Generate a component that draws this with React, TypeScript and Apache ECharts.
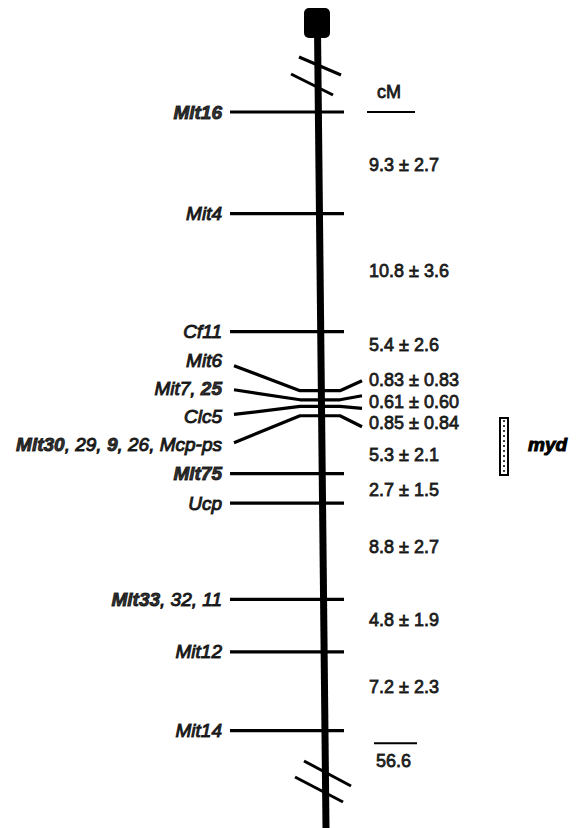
import React, { useEffect, useRef } from "react";
import * as echarts from "echarts";

// ---------- data ----------
const markerLabels = [
  "{b|Mit16}",
  "{r|Mit4}",
  "{r|Cf11}",
  "{r|Mit6}",
  "{r|Mit7, }{b|25}",
  "{r|Clc5}",
  "{b|Mit30}{r|, 29, }{b|9}{r|, 26, Mcp-ps}",
  "{b|Mit75}",
  "{r|Ucp}",
  "{b|Mit33}{r|, 32, 11}",
  "{r|Mit12}",
  "{r|Mit14}",
];
const intervalCM = [9.3, 10.8, 5.4, 0.83, 0.61, 0.85, 5.3, 2.7, 8.8, 4.8, 7.2];
const intervalSE = [2.7, 3.6, 2.6, 0.83, 0.6, 0.84, 2.1, 1.5, 2.7, 1.9, 2.3];
const totalCM = 56.6;
const unitLabel = "cM";
const locusLabel = "myd";

// ---------- layout ----------
const W = 577;
const H = 828;
const Y0 = 112;
const PX_PER_CM = 10.93;
const LINE_LEFT = 230;
const LINE_RIGHT = 344;
const LABEL_RIGHT = 222;
const INTERVAL_X = 369;
const CLUSTER = [3, 4, 5, 6];
const clusterLeftPx = [-25, -10, 8, 27];
const clusterRightPx = [-10, -4, 2, 11];
const clusterLabelPx = [-30, -11, 10, 29];
const intervalLabelPx = [2, -2, -16, -15, -1, 12, 10, 2, -4, -6, -4];
const FONT = "'Liberation Sans', Arial, Helvetica, sans-serif";

const px2cm = (p: number) => p / PX_PER_CM;

export default function App() {
  const ref = useRef<HTMLDivElement>(null);
  useEffect(() => {
    document.body.style.margin = "0";
    if (!ref.current) return;
    const chart = echarts.init(ref.current, null, { renderer: "svg" });

    // cumulative positions
    const pos: number[] = [0];
    intervalCM.forEach((d) => pos.push(Math.round((pos[pos.length - 1] + d) * 100) / 100));

    const series: any[] = [];
    const lineStyle = { color: "#000", width: 3.2, cap: "butt", join: "round" };

    pos.forEach((cm, i) => {
      const ci = CLUSTER.indexOf(i);
      let data: number[][];
      if (ci >= 0) {
        data = [
          [LINE_LEFT + 4, cm + px2cm(clusterLeftPx[ci])],
          [300, cm],
          [340, cm],
          [362, cm + px2cm(clusterRightPx[ci])],
        ];
      } else {
        data = [
          [LINE_LEFT, cm],
          [LINE_RIGHT, cm],
        ];
      }
      series.push({
        type: "line",
        data,
        symbol: "none",
        lineStyle,
        silent: true,
        z: 3,
      });
    });

    // marker labels
    series.push({
      type: "scatter",
      symbolSize: 0,
      silent: true,
      data: pos.map((cm, i) => {
        const ci = CLUSTER.indexOf(i);
        return [LABEL_RIGHT, ci >= 0 ? cm + px2cm(clusterLabelPx[ci]) : cm];
      }),
      label: {
        show: true,
        position: "left",
        distance: 0,
        color: "#000",
        formatter: (p: any) => markerLabels[p.dataIndex],
        rich: {
          b: {
            fontFamily: FONT,
            fontSize: 19,
            fontWeight: "bold",
            fontStyle: "italic",
            color: "#000",
            textBorderColor: "#000",
            textBorderWidth: 1,
          },
          r: {
            fontFamily: FONT,
            fontSize: 19,
            fontWeight: "normal",
            fontStyle: "italic",
            color: "#000",
            textBorderColor: "#000",
            textBorderWidth: 1.1,
          },
        },
      },
    });

    // interval labels
    const fmt = (v: number, ref: number) => (ref < 1 ? v.toFixed(2) : v.toFixed(1));
    series.push({
      type: "scatter",
      symbolSize: 0,
      silent: true,
      data: intervalCM.map((d, i) => [
        INTERVAL_X,
        (pos[i] + pos[i + 1]) / 2 + px2cm(intervalLabelPx[i]),
      ]),
      label: {
        show: true,
        position: "right",
        distance: 0,
        formatter: (p: any) =>
          `${fmt(intervalCM[p.dataIndex], intervalCM[p.dataIndex])} ± ${fmt(
            intervalSE[p.dataIndex],
            intervalCM[p.dataIndex]
          )}`,
        fontFamily: FONT,
        fontSize: 18,
        color: "#000",
        textBorderColor: "#000",
        textBorderWidth: 0.9,
      },
    });

    // unit header line & total line
    series.push({
      type: "line",
      data: [
        [367, 0],
        [415, 0],
      ],
      symbol: "none",
      lineStyle: { color: "#000", width: 2 },
      silent: true,
    });
    series.push({
      type: "line",
      data: [
        [374, totalCM + px2cm(12.5)],
        [417, totalCM + px2cm(12.5)],
      ],
      symbol: "none",
      lineStyle: { color: "#000", width: 2 },
      silent: true,
    });
    series.push({
      type: "scatter",
      symbolSize: 0,
      silent: true,
      data: [
        [376, totalCM + px2cm(30)],
        [377, px2cm(-20)],
      ],
      label: {
        show: true,
        position: "right",
        distance: 0,
        formatter: (p: any) => (p.dataIndex === 0 ? String(totalCM) : unitLabel),
        fontFamily: FONT,
        fontSize: 18,
        color: "#000",
        textBorderColor: "#000",
        textBorderWidth: 0.9,
      },
    });

    const yMin = -Y0 / PX_PER_CM;
    const yMax = (H - Y0) / PX_PER_CM;

    chart.setOption({
      animation: false,
      backgroundColor: "#fff",
      grid: { left: 0, right: 0, top: 0, bottom: 0 },
      xAxis: { type: "value", min: 0, max: W, show: false },
      yAxis: { type: "value", min: yMin, max: yMax, inverse: true, show: false },
      series,
      graphic: [
        {
          type: "line",
          shape: { x1: 317.5, y1: 30, x2: 326, y2: 828 },
          style: { stroke: "#000", lineWidth: 7 },
          z: 1,
        },
        {
          type: "rect",
          shape: { x: 304, y: 8, width: 26, height: 30, r: 5 },
          style: { fill: "#000" },
        },
        {
          type: "line",
          shape: { x1: 299, y1: 57, x2: 341, y2: 75 },
          style: { stroke: "#000", lineWidth: 3 },
        },
        {
          type: "line",
          shape: { x1: 291, y1: 74, x2: 333, y2: 95 },
          style: { stroke: "#000", lineWidth: 3 },
        },
        {
          type: "line",
          shape: { x1: 304, y1: 761, x2: 351, y2: 786 },
          style: { stroke: "#000", lineWidth: 3 },
        },
        {
          type: "line",
          shape: { x1: 295, y1: 777, x2: 343, y2: 802 },
          style: { stroke: "#000", lineWidth: 3 },
        },
        {
          type: "rect",
          shape: { x: 500, y: 418, width: 8, height: 57 },
          style: { fill: "#fff", stroke: "#000", lineWidth: 2 },
        },
        {
          type: "line",
          shape: { x1: 504, y1: 420, x2: 504, y2: 473 },
          style: { stroke: "#000", lineWidth: 1.5, lineDash: [2, 3] },
        },
        {
          type: "text",
          x: 528,
          y: 444,
          style: {
            text: locusLabel,
            fontFamily: FONT,
            fontSize: 19,
            fontWeight: "bold",
            fontStyle: "italic",
            fill: "#000",
            stroke: "#000",
            lineWidth: 1,
            verticalAlign: "middle",
            align: "left",
          },
        },
      ],
    });
    return () => chart.dispose();
  }, []);
  return <div ref={ref} style={{ width: W, height: H }} />;
}
